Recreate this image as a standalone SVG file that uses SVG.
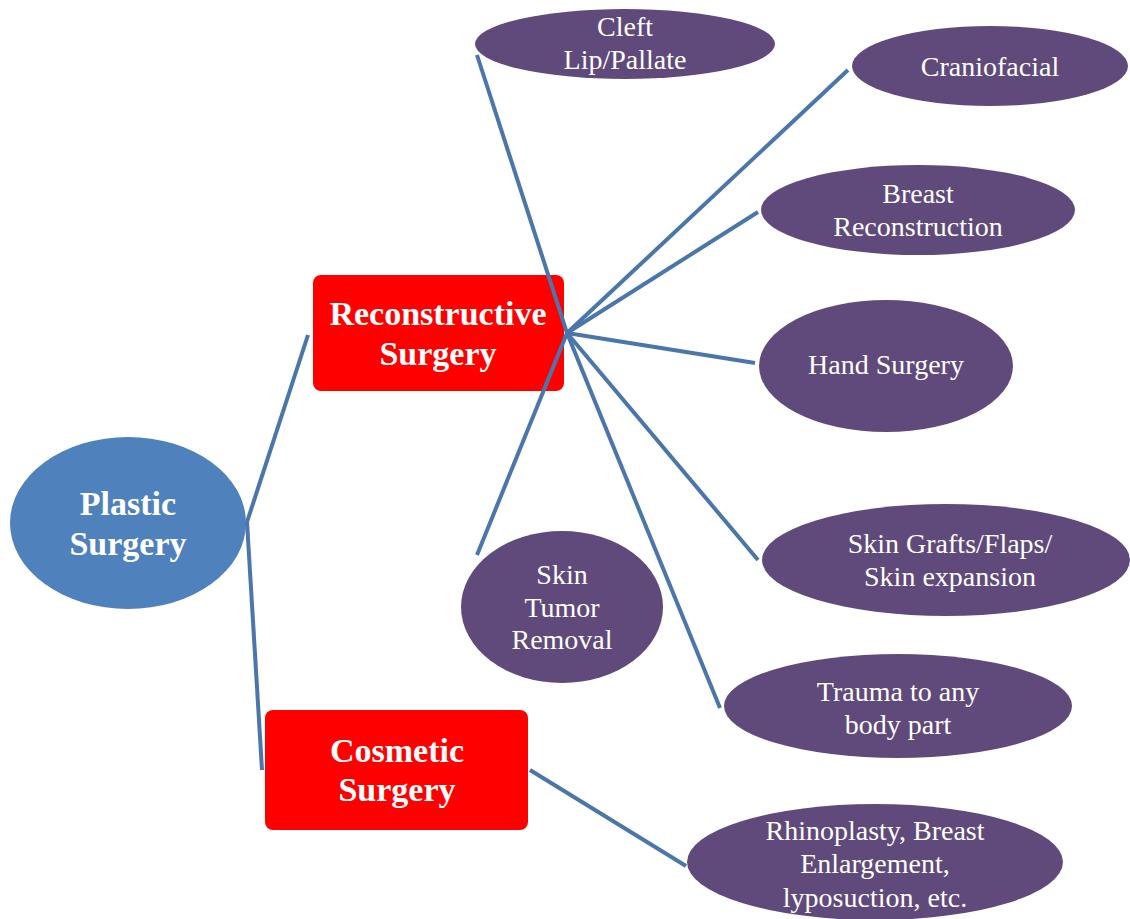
<svg xmlns="http://www.w3.org/2000/svg" width="1130" height="919" viewBox="0 0 1130 919">
<style>
.root{fill:#4F81BD}
.box{fill:#FF0000}
.leaf{fill:#604A7B}
text{fill:#fff;text-anchor:middle}
.bt{font-weight:bold;font-size:34px}
.lt{font-size:28px}
.con line{stroke:#4A76AC;stroke-width:4;stroke-linecap:butt}
</style>
<rect width="1130" height="919" fill="#fff"/>
<g id="plastic" font-family="Liberation Serif, Times New Roman, serif">
<ellipse class="root" cx="128" cy="523" rx="118" ry="86"/>
<text class="bt" x="128" y="515">Plastic</text>
<text class="bt" x="128" y="555">Surgery</text>
</g>
<g id="reconstructive" font-family="Liberation Serif, Times New Roman, serif">
<rect class="box" x="313" y="275" width="251" height="116" rx="8"/>
<text class="bt" x="438" y="325">Reconstructive</text>
<text class="bt" x="438" y="365">Surgery</text>
</g>
<g id="cosmetic" font-family="Liberation Serif, Times New Roman, serif">
<rect class="box" x="265" y="710" width="263" height="120" rx="8"/>
<text class="bt" x="397" y="762">Cosmetic</text>
<text class="bt" x="397" y="801">Surgery</text>
</g>
<g class="con" id="connectors">
<line x1="247" y1="522" x2="308" y2="335"/>
<line x1="247" y1="522" x2="262" y2="770"/>
<line x1="567" y1="333" x2="477" y2="55"/>
<line x1="567" y1="333" x2="848" y2="70"/>
<line x1="567" y1="333" x2="758" y2="212"/>
<line x1="567" y1="333" x2="755" y2="363"/>
<line x1="567" y1="333" x2="758" y2="560"/>
<line x1="567" y1="333" x2="720" y2="708"/>
<line x1="567" y1="333" x2="477" y2="555"/>
<line x1="530" y1="770" x2="686" y2="866"/>
</g>
<g font-family="Liberation Serif, Times New Roman, serif">
<g id="cleft">
<ellipse class="leaf" cx="625" cy="44" rx="150" ry="35"/>
<text class="lt" x="625" y="36">Cleft</text>
<text class="lt" x="625" y="69">Lip/Pallate</text>
</g>
<g id="craniofacial">
<ellipse class="leaf" cx="990" cy="66" rx="138" ry="40"/>
<text class="lt" x="990" y="76">Craniofacial</text>
</g>
<g id="breast">
<ellipse class="leaf" cx="918" cy="210" rx="157" ry="45"/>
<text class="lt" x="918" y="203">Breast</text>
<text class="lt" x="918" y="236">Reconstruction</text>
</g>
<g id="hand">
<ellipse class="leaf" cx="886" cy="366" rx="127" ry="66"/>
<text class="lt" x="886" y="374">Hand Surgery</text>
</g>
<g id="skingrafts">
<ellipse class="leaf" cx="946" cy="560" rx="184" ry="56"/>
<text class="lt" x="950" y="553">Skin Grafts/Flaps/</text>
<text class="lt" x="950" y="586">Skin expansion</text>
</g>
<g id="skintumor">
<ellipse class="leaf" cx="562" cy="607" rx="101" ry="76"/>
<text class="lt" x="562" y="584">Skin</text>
<text class="lt" x="562" y="617">Tumor</text>
<text class="lt" x="562" y="649">Removal</text>
</g>
<g id="trauma">
<ellipse class="leaf" cx="898" cy="706" rx="174" ry="52"/>
<text class="lt" x="898" y="701">Trauma to any</text>
<text class="lt" x="898" y="734">body part</text>
</g>
<g id="rhinoplasty">
<ellipse class="leaf" cx="875" cy="862" rx="188" ry="58"/>
<text class="lt" x="875" y="840">Rhinoplasty, Breast</text>
<text class="lt" x="875" y="873">Enlargement,</text>
<text class="lt" x="875" y="907">lyposuction, etc.</text>
</g>
</g>
</svg>
